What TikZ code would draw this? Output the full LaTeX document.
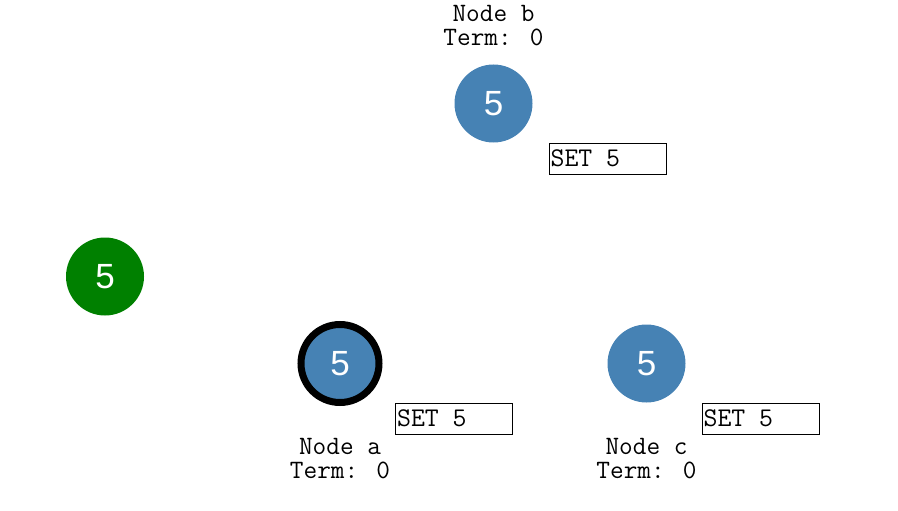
\documentclass[tikz,border=0pt]{standalone}
\usepackage{fontspec}
\newfontfamily\arialfont{Liberation Sans}
\usetikzlibrary{positioning}
\definecolor{steelblue}{HTML}{4682B4}
\definecolor{webgreen}{HTML}{008000}
\tikzset{
	srv/.style={circle,fill=steelblue,minimum size=78pt,inner sep=0pt,text=white,font=\arialfont\fontsize{35}{35}\selectfont},
	msg/.style={draw,line width=1.2pt,minimum width=117pt,minimum height=31pt,inner xsep=1.5pt,font=\ttfamily\fontsize{27}{27}\selectfont},
	info/.style={align=center,inner sep=0pt,font=\ttfamily\fontsize{26.5}{23.6}\selectfont}
}
\newcommand{\settext}[1]{\makebox[114pt][l]{#1}}
\begin{document}
\begin{tikzpicture}[x=1pt,y=-1pt]
		\useasboundingbox (0,0) rectangle (898,511);
		
		\node[srv] (b) at (493.5,103.5) {5};
		\node[srv,fill=webgreen] (g) at (105,276.5) {5};
		\node[srv,draw=black,line width=7pt] (a) at (340,363.5) {5};
		\node[srv] (c) at (646.5,363.5) {5};
		
		\node[msg,below right=39pt and 55pt of b.center] (mb) {\settext{SET 5}};
		\node[msg,below right=39pt and 55pt of a.center] (ma) {\settext{SET 5}};
		\node[msg,below right=39pt and 55pt of c.center] (mc) {\settext{SET 5}};
		
		\node[info,above=57.5pt of b.center] (lb) {Node b\\Term: 0};
		\node[info,below=75pt of a.center] (la) {Node a\\Term: 0};
		\node[info,below=75pt of c.center] (lc) {Node c\\Term: 0};
\end{tikzpicture}
\end{document}
